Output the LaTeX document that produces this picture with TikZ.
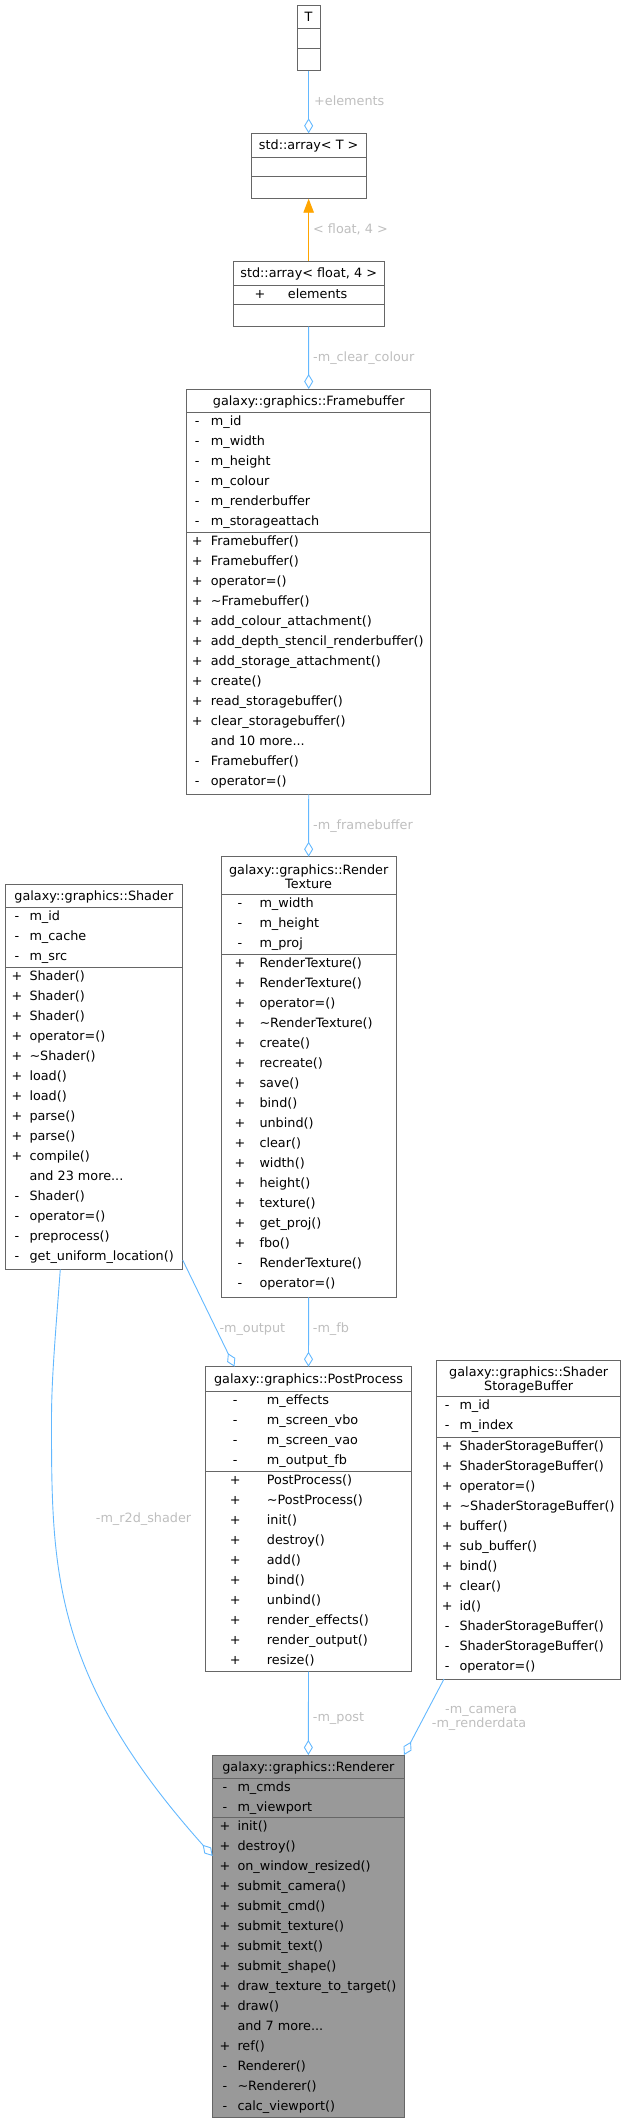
\documentclass[tikz,border=0pt]{standalone}
\usepackage{fontspec}
\setmainfont{DejaVu Sans}
\usetikzlibrary{arrows.meta}
\definecolor{edgeblue}{HTML}{63B8FF}
\definecolor{inhorange}{HTML}{FFA500}
\definecolor{lblgrey}{HTML}{BEBEBE}
\definecolor{boxgrey}{HTML}{666666}
\definecolor{rendfill}{HTML}{999999}
\newcommand\mydots{...}
% #1 sign x, #2 text x, #3 section top y, #4 name prefix, #5 list sign/text
\newcommand\myrows[5]{%
  \foreach \s/\t [count=\i from 0] in {#5} {
    \node[sgn, name=#4s\i] at (#1,{#3+13+20*\i}) {\s};
    \node[txt, name=#4t\i] at (#2,{#3+13+20*\i}) {\t};
  }}
\newcommand\mysep[2]{\draw[clsline] ([yshift=-#2pt]#1.north west) -- ([yshift=-#2pt]#1.north east);}
\begin{document}
\begin{tikzpicture}[x=1pt,y=-1pt,
  font=\fontsize{12.8}{14}\selectfont,
  cls/.style={rectangle, draw=boxgrey, line width=1pt, fill=white, inner sep=0pt, outer sep=0pt, anchor=north west},
  clsline/.style={draw=boxgrey, line width=1pt},
  sgn/.style={anchor=base, inner sep=0pt},
  txt/.style={anchor=base west, inner sep=0pt},
  ttl/.style={anchor=base, inner sep=0pt},
  lbl/.style={anchor=base west, inner sep=0pt, text=lblgrey},
  agg/.style={draw=edgeblue, line width=0.9pt, -{Diamond[open, length=15pt, width=9pt]}},
  inh/.style={draw=inhorange, line width=0.9pt, -{Triangle[length=14pt, width=10.5pt, fill=inhorange]}}]
\useasboundingbox (0,0) rectangle (626,2128);

% ---- T
\node[cls, minimum width=22.7pt, minimum height=65.7pt] (T) at (297.3,5) {};
\mysep{T}{23.5}\mysep{T}{43.3}
\node[ttl] (Tt) at (308.65,21.5) {T};

% ---- std::array< T >
\node[cls, minimum width=114.7pt, minimum height=65.4pt] (arrT) at (251.3,133.3) {};
\mysep{arrT}{23.7}\mysep{arrT}{43.4}
\node[ttl] (arrTt) at (308.65,149.8) {std::array< T >};

% ---- std::array< float, 4 >
\node[cls, minimum width=150.7pt, minimum height=65.7pt] (arrF) at (233.3,261) {};
\mysep{arrF}{24}\mysep{arrF}{43.3}
\node[ttl] (arrFt) at (308.65,277.5) {std::array< float, 4 >};
\myrows{260}{287.7}{285}{arrFa}{+/elements}

% ---- Framebuffer
\node[cls, minimum width=244pt, minimum height=405.3pt] (FB) at (186.7,389) {};
\mysep{FB}{23.3}\mysep{FB}{143.3}
\node[ttl] (FBt) at (308.7,405.5) {galaxy::graphics::Framebuffer};
\myrows{197.3}{210.7}{412.3}{FBa}{-/m\_id, -/m\_width, -/m\_height, -/m\_colour, -/m\_renderbuffer, -/m\_storageattach}
\myrows{197.3}{210.7}{532.3}{FBm}{+/Framebuffer(), +/Framebuffer(), +/operator=(), +/\textasciitilde Framebuffer(), +/add\_colour\_attachment(), +/add\_depth\_stencil\_renderbuffer(), +/add\_storage\_attachment(), +/create(), +/read\_storagebuffer(), +/clear\_storagebuffer(), {}/and 10 more\mydots, -/Framebuffer(), -/operator=()}

% ---- Shader
\node[cls, minimum width=177.7pt, minimum height=385pt] (SH) at (5,884.3) {};
\mysep{SH}{23.4}\mysep{SH}{83.4}
\node[ttl] (SHt) at (93.85,900.8) {galaxy::graphics::Shader};
\myrows{17}{29.3}{907.7}{SHa}{-/m\_id, -/m\_cache, -/m\_src}
\myrows{17}{29.3}{967.7}{SHm}{+/Shader(), +/Shader(), +/Shader(), +/operator=(), +/\textasciitilde Shader(), +/load(), +/load(), +/parse(), +/parse(), +/compile(), {}/and 23 more\mydots, -/Shader(), -/operator=(), -/preprocess(), -/get\_uniform\_location()}

% ---- RenderTexture
\node[cls, minimum width=175.3pt, minimum height=440.6pt] (RT) at (221,856.7) {};
\mysep{RT}{37.6}\mysep{RT}{97.6}
\node[ttl] (RTt1) at (308.65,874) {galaxy::graphics::Render};
\node[ttl] (RTt2) at (308.65,888) {Texture};
\myrows{240}{259.3}{894.3}{RTa}{-/m\_width, -/m\_height, -/m\_proj}
\myrows{240}{259.3}{954.3}{RTm}{+/RenderTexture(), +/RenderTexture(), +/operator=(), +/\textasciitilde RenderTexture(), +/create(), +/recreate(), +/save(), +/bind(), +/unbind(), +/clear(), +/width(), +/height(), +/texture(), +/get\_proj(), +/fbo(), -/RenderTexture(), -/operator=()}

% ---- PostProcess
\node[cls, minimum width=206.4pt, minimum height=305pt] (PP) at (205.3,1366.7) {};
\mysep{PP}{24.3}\mysep{PP}{104.3}
\node[ttl] (PPt) at (308.5,1383.2) {galaxy::graphics::PostProcess};
\myrows{235.3}{266.7}{1391}{PPa}{-/m\_effects, -/m\_screen\_vbo, -/m\_screen\_vao, -/m\_output\_fb}
\myrows{235.3}{266.7}{1471}{PPm}{+/PostProcess(), +/\textasciitilde PostProcess(), +/init(), +/destroy(), +/add(), +/bind(), +/unbind(), +/render\_effects(), +/render\_output(), +/resize()}

% ---- ShaderStorageBuffer
\node[cls, minimum width=184pt, minimum height=319pt] (SSB) at (436.7,1360) {};
\mysep{SSB}{36.7}\mysep{SSB}{77.3}
\node[ttl] (SSBt1) at (528.7,1376.5) {galaxy::graphics::Shader};
\node[ttl] (SSBt2) at (528.7,1390.5) {StorageBuffer};
\myrows{447.3}{459.3}{1396.7}{SSBa}{-/m\_id, -/m\_index}
\myrows{447.3}{459.3}{1437.3}{SSBm}{+/ShaderStorageBuffer(), +/ShaderStorageBuffer(), +/operator=(), +/\textasciitilde ShaderStorageBuffer(), +/buffer(), +/sub\_buffer(), +/bind(), +/clear(), +/id(), -/ShaderStorageBuffer(), -/ShaderStorageBuffer(), -/operator=()}

% ---- Renderer
\node[cls, fill=rendfill, minimum width=191.3pt, minimum height=362.7pt] (RD) at (212.7,1755) {};
\mysep{RD}{23.3}\mysep{RD}{62.7}
\node[ttl] (RDt) at (308.35,1771.5) {galaxy::graphics::Renderer};
\myrows{225}{237.3}{1778.3}{RDa}{-/m\_cmds, -/m\_viewport}
\myrows{225}{237.3}{1817.7}{RDm}{+/init(), +/destroy(), +/on\_window\_resized(), +/submit\_camera(), +/submit\_cmd(), +/submit\_texture(), +/submit\_text(), +/submit\_shape(), +/draw\_texture\_to\_target(), +/draw(), {}/and 7 more\mydots, +/ref(), -/Renderer(), -/\textasciitilde Renderer(), -/calc\_viewport()}

% ---- connectors
\draw[agg] (T.south) -- (arrT.north);
\draw[inh] (arrF.north) -- (arrT.south);
\draw[agg] (arrF.south) -- (FB.north);
\draw[agg] (FB.south) -- (RT.north);
\draw[agg] (RT.south) -- (PP.north);
\draw[agg] ([yshift=9.3pt]SH.south east) -- ([xshift=29.2pt]PP.north west);
\draw[agg] (PP.south) -- (RD.north);
\draw[agg] ([xshift=7.3pt]SSB.south west) -- (RD.north east);
\draw[agg] ([xshift=55.3pt]SH.south west) .. controls (55,1340) and (51.5,1380) .. (51.5,1420)
           .. controls (51.5,1570) and (51.9,1676) .. ([yshift=-101pt]RD.north west);

% ---- labels
\node[lbl] (l1) at (314,105) {+elements};
\node[lbl] (l2) at (313,233) {< float, 4 >};
\node[lbl] (l3) at (313,361) {-m\_clear\_colour};
\node[lbl] (l4) at (313,829) {-m\_framebuffer};
\node[lbl] (l5) at (219.3,1332) {-m\_output};
\node[lbl] (l6) at (312.7,1332) {-m\_fb};
\node[lbl] (l7) at (312.7,1721) {-m\_post};
\node[lbl] (l8) at (445,1713.5) {-m\_camera};
\node[lbl] (l9) at (431.7,1727.5) {-m\_renderdata};
\node[lbl] (l10) at (95.7,1522.5) {-m\_r2d\_shader};
\end{tikzpicture}
\end{document}
